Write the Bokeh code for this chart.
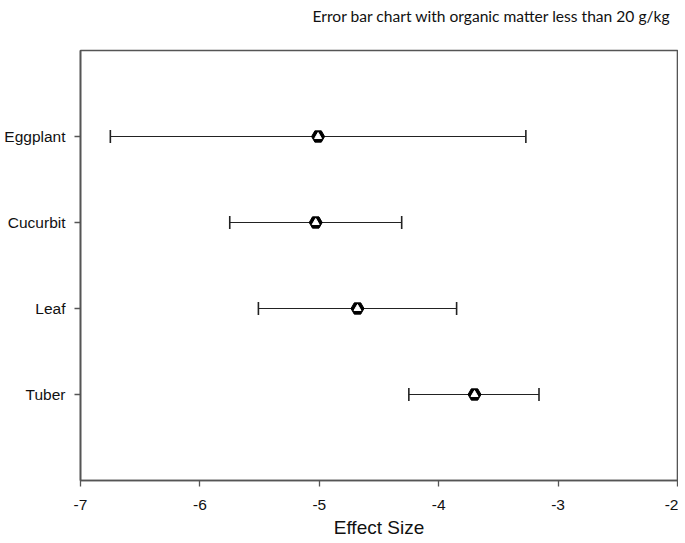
from bokeh.plotting import figure
from bokeh.models import ColumnDataSource, Whisker, TeeHead, FixedTicker, Title
from bokeh.embed import file_html
from bokeh.resources import INLINE

categories = ["Tuber", "Leaf", "Cucurbit", "Eggplant"]
positions = [1, 2, 3, 4]
effect = [-3.70, -4.68, -5.03, -5.01]
lower = [-4.25, -5.51, -5.75, -6.75]
upper = [-3.16, -3.85, -4.31, -3.27]
x_ticks = [-7, -6, -5, -4, -3, -2]
title_text = "Error bar chart with organic matter less than 20 g/kg"

src = ColumnDataSource(dict(y=positions, x=effect, lo=lower, hi=upper))

p = figure(width=678, height=543, output_backend="svg", toolbar_location=None,
           x_range=(-7, -2), y_range=(0, 5),
           min_border_left=80, min_border_right=1, min_border_top=0, min_border_bottom=63)
p.title = None

p.add_layout(Title(text=" ", text_font="Lato", text_font_size="14px", standoff=3), "above")
p.add_layout(Title(text=title_text, text_font="Lato", text_font_size="15.6px", text_font_style="normal",
                   text_color="#111111", align="left", offset=232, standoff=8), "above")

p.grid.visible = False
p.outline_line_color = "#555555"
p.outline_line_width = 1.6
p.background_fill_color = "white"
p.border_fill_color = "white"

p.xaxis.ticker = FixedTicker(ticks=x_ticks)
p.xaxis.major_label_overrides = {t: str(t) for t in x_ticks}
p.yaxis.ticker = FixedTicker(ticks=positions)
p.yaxis.major_label_overrides = {pos: c for pos, c in zip(positions, categories)}

for ax in (p.xaxis, p.yaxis):
    ax.axis_line_color = "#555555"
    ax.axis_line_width = 1.6
    ax.major_tick_line_color = "#555555"
    ax.major_tick_line_width = 1.3
    ax.major_tick_in = 0
    ax.major_tick_out = 6
    ax.minor_tick_line_color = None
    ax.major_label_text_font = "Liberation Sans"
    ax.major_label_text_font_size = "15.5px"
    ax.major_label_text_color = "#111111"
    ax.major_label_standoff = 9

p.xaxis.major_label_standoff = 13
p.xaxis.axis_label = "Effect Size"
p.xaxis.axis_label_text_font = "Liberation Sans"
p.xaxis.axis_label_text_font_size = "19px"
p.xaxis.axis_label_text_font_style = "normal"
p.xaxis.axis_label_text_color = "#111111"
p.xaxis.axis_label_standoff = 4

w = Whisker(source=src, base="y", lower="lo", upper="hi", dimension="width",
            line_color="#222222", line_width=1.2,
            lower_head=TeeHead(size=13, line_color="#222222", line_width=1.6),
            upper_head=TeeHead(size=13, line_color="#222222", line_width=1.6))
p.add_layout(w)

p.scatter("x", "y", source=src, marker="hex", size=13, fill_color="black", line_color="black")
p.scatter("x", "y", source=src, marker="triangle", size=7, fill_color="white", line_color="white")

open("out.html", "w").write(file_html(p, INLINE))
